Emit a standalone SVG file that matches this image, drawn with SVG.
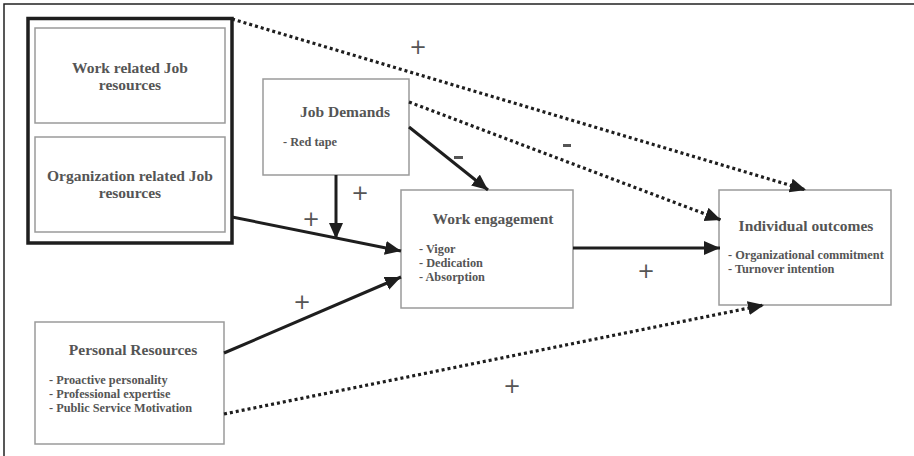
<svg xmlns="http://www.w3.org/2000/svg" width="914" height="456" viewBox="0 0 914 456">
<defs>
<style>
.box{fill:#fff;stroke:#9a9a9a;stroke-width:1.5}
.t{font-family:"Liberation Serif","Times New Roman",serif;font-weight:bold;fill:#555}
.h{font-size:15.5px}
.b{font-size:12.3px}
.c{text-anchor:middle}
.s{stroke:#1e1e1e;stroke-width:3;fill:none}
.d{stroke:#1e1e1e;stroke-width:3.2;fill:none;stroke-dasharray:3 3}
.sg{font-family:"DejaVu Sans","Liberation Sans",sans-serif;font-size:21px;fill:#555;text-anchor:middle}
</style>
<marker id="ah" markerUnits="userSpaceOnUse" markerWidth="18" markerHeight="16" refX="16" refY="7" orient="auto">
<path d="M0,0 L16,7 L0,14 Z" fill="#1e1e1e"/>
</marker>
</defs>
<rect x="4" y="4" width="930" height="470" fill="#fff" stroke="#222" stroke-width="1.5"/>

<g id="jobresources">
<rect x="28" y="18.5" width="204" height="224.5" fill="none" stroke="#1e1e1e" stroke-width="3.5"/>
</g>
<g id="work-related">
<rect class="box" x="35" y="28" width="190" height="95"/>
<text class="t h c" x="130" y="73">Work related Job</text>
<text class="t h c" x="130" y="90">resources</text>
</g>
<g id="org-related">
<rect class="box" x="35" y="137" width="190" height="95"/>
<text class="t h c" x="130" y="181">Organization related Job</text>
<text class="t h c" x="130" y="198">resources</text>
</g>
<g id="job-demands">
<rect class="box" x="263" y="79" width="146" height="96"/>
<text class="t h c" x="345" y="117">Job Demands</text>
<text class="t b" x="283" y="146">- Red tape</text>
</g>
<g id="work-engagement">
<rect class="box" x="401" y="190" width="172" height="118"/>
<text class="t h c" x="493" y="224">Work engagement</text>
<text class="t b" x="419" y="253">- Vigor</text>
<text class="t b" x="419" y="267">- Dedication</text>
<text class="t b" x="419" y="281">- Absorption</text>
</g>
<g id="individual-outcomes">
<rect class="box" x="719" y="190" width="172" height="115"/>
<text class="t h c" x="806" y="231">Individual outcomes</text>
<text class="t b" x="728" y="259">- Organizational commitment</text>
<text class="t b" x="728" y="273">- Turnover intention</text>
</g>
<g id="personal-resources">
<rect class="box" x="35" y="322" width="189" height="122"/>
<text class="t h c" x="133" y="355">Personal Resources</text>
<text class="t b" x="49" y="384">- Proactive personality</text>
<text class="t b" x="49" y="398">- Professional expertise</text>
<text class="t b" x="49" y="412">- Public Service Motivation</text>
</g>

<g id="connectors">
<line class="d" x1="232" y1="19" x2="806" y2="190" marker-end="url(#ah)"/>
<line class="d" x1="409" y1="102" x2="721" y2="220" marker-end="url(#ah)"/>
<line class="s" x1="409" y1="127" x2="488" y2="190" marker-end="url(#ah)"/>
<line class="s" x1="336" y1="175" x2="336" y2="239" stroke-width="4" marker-end="url(#ah)"/>
<line class="s" x1="232" y1="217" x2="401" y2="251" marker-end="url(#ah)"/>
<line class="s" x1="224" y1="353" x2="401" y2="277" marker-end="url(#ah)"/>
<line class="s" x1="573" y1="248" x2="720" y2="248" stroke-width="4" marker-end="url(#ah)"/>
<line class="d" x1="224" y1="414" x2="764" y2="305" marker-end="url(#ah)"/>
</g>

<g id="signs">
<text class="sg" x="418" y="54">+</text>
<text class="sg" x="360" y="200">+</text>
<text class="sg" x="311" y="226">+</text>
<text class="sg" x="302" y="309">+</text>
<text class="sg" x="646" y="278">+</text>
<text class="sg" x="512" y="393">+</text>
<rect x="454" y="156" width="9" height="3" fill="#555"/>
<rect x="563" y="144" width="8" height="3" fill="#555"/>
</g>
</svg>
